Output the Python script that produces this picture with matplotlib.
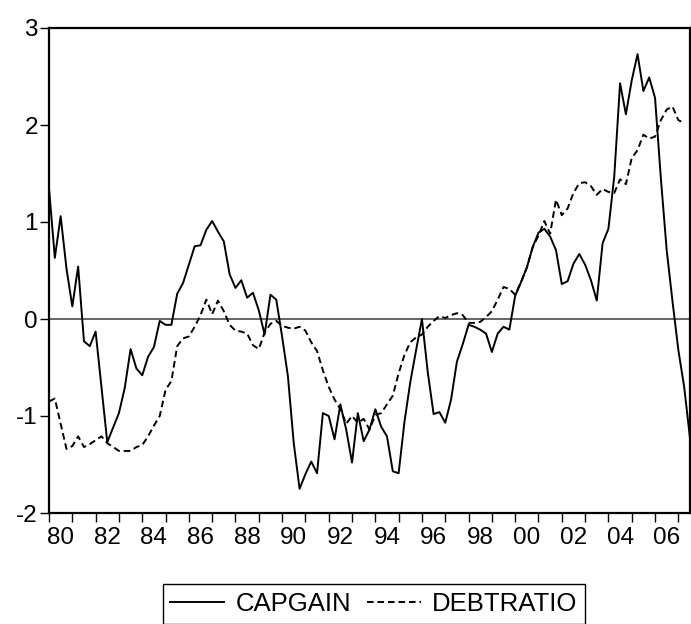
import numpy as np
import matplotlib
matplotlib.use("Agg")
from matplotlib import pyplot as plt

plt.rcParams['font.family'] = ['Liberation Sans', 'DejaVu Sans']
plt.rcParams['axes.unicode_minus'] = False

# quarterly data, 1980Q1 onwards
capgain = [1.35, 0.63, 1.06, 0.52, 0.13, 0.54, -0.23, -0.28, -0.13, -0.70,
           -1.27, -1.12, -0.97, -0.71, -0.31, -0.51, -0.58, -0.39, -0.29, -0.02,
           -0.06, -0.06, 0.26, 0.37, 0.56, 0.75, 0.76, 0.92, 1.01, 0.90,
           0.80, 0.46, 0.32, 0.40, 0.22, 0.27, 0.09, -0.16, 0.25, 0.20,
           -0.18, -0.59, -1.28, -1.75, -1.60, -1.47, -1.59, -0.97, -1.00, -1.24,
           -0.88, -1.14, -1.48, -0.97, -1.26, -1.14, -0.93, -1.11, -1.21, -1.57,
           -1.59, -1.06, -0.65, -0.32, 0.00, -0.55, -0.98, -0.96, -1.07, -0.83,
           -0.44, -0.26, -0.06, -0.08, -0.11, -0.15, -0.34, -0.15, -0.08, -0.11,
           0.24, 0.38, 0.53, 0.74, 0.89, 0.93, 0.85, 0.71, 0.36, 0.39,
           0.57, 0.67, 0.56, 0.40, 0.19, 0.78, 0.93, 1.47, 2.43, 2.11,
           2.46, 2.73, 2.35, 2.49, 2.28, 1.45, 0.71, 0.18, -0.32, -0.70,
           -1.23]
debtratio = [-0.85, -0.82, -1.08, -1.34, -1.31, -1.21, -1.32, -1.29, -1.25, -1.21,
             -1.28, -1.32, -1.36, -1.36, -1.36, -1.32, -1.30, -1.21, -1.10, -1.00,
             -0.73, -0.64, -0.28, -0.20, -0.18, -0.08, 0.04, 0.20, 0.05, 0.19,
             0.08, -0.06, -0.12, -0.13, -0.15, -0.27, -0.31, -0.14, -0.05, -0.02,
             -0.07, -0.09, -0.10, -0.08, -0.12, -0.24, -0.33, -0.53, -0.70, -0.83,
             -0.93, -1.08, -1.00, -1.07, -1.03, -1.14, -0.99, -0.97, -0.88, -0.79,
             -0.56, -0.37, -0.24, -0.19, -0.16, -0.08, -0.02, 0.03, 0.01, 0.04,
             0.06, 0.04, -0.04, -0.04, -0.03, 0.02, 0.08, 0.20, 0.33, 0.31,
             0.25, 0.38, 0.53, 0.74, 0.86, 1.01, 0.88, 1.23, 1.07, 1.14,
             1.30, 1.40, 1.41, 1.37, 1.28, 1.34, 1.31, 1.30, 1.44, 1.39,
             1.66, 1.74, 1.90, 1.86, 1.88, 2.05, 2.16, 2.19, 2.05, 2.02]

year_labels = ['80', '82', '84', '86', '88', '90', '92', '94', '96', '98',
               '00', '02', '04', '06']
y_ticks = [-2, -1, 0, 1, 2, 3]

t = 1980 + np.arange(len(capgain)) / 4.0
t_debt = 1980 + np.arange(len(debtratio)) / 4.0

fig = plt.figure(figsize=(6.91, 6.24), dpi=100)
ax = fig.add_axes([49 / 691, 1 - 513 / 624, 641 / 691, 485 / 624])

ax.axhline(0, color='#3c3c3c', lw=1.1, zorder=1)
l1, = ax.plot(t, capgain, color='black', lw=1.4, label='CAPGAIN')
l2, = ax.plot(t_debt, debtratio, color='black', lw=1.4, label='DEBTRATIO')
l2.set_dashes((3.4, 2.0))

ax.set_xlim(1980, t[-1])
ax.set_ylim(-2, 3)

for s in ax.spines.values():
    s.set_linewidth(1.6)
    s.set_color('black')

ax.set_yticks(y_ticks)
ax.set_yticklabels([str(v) for v in y_ticks])
ax.tick_params(axis='y', direction='out', length=6.5, width=1.0, pad=1.5,
               labelsize=17.5, left=True, right=False)

# year ticks, labels centred between them (every other year)
ax.set_xticks(np.arange(1980, 2008))
ax.set_xticklabels([])
ax.tick_params(axis='x', which='major', direction='out', length=6.5, width=1.0,
               bottom=True, top=False)
ax.set_xticks([1980.5 + 2 * k for k in range(len(year_labels))], year_labels, minor=True)
ax.tick_params(axis='x', which='minor', length=0, pad=10, labelsize=17.5)

leg = fig.legend([l1, l2], ['CAPGAIN', 'DEBTRATIO'], loc='center',
                 bbox_to_anchor=(374 / 691, 1 - 604 / 624), ncol=2,
                 fontsize=18.5, fancybox=False, edgecolor='black', framealpha=1,
                 handlelength=2.1, handletextpad=0.45, columnspacing=0.6,
                 borderpad=0.3, borderaxespad=0)
leg.get_frame().set_linewidth(1.0)

fig.savefig('out.png', dpi=100)
